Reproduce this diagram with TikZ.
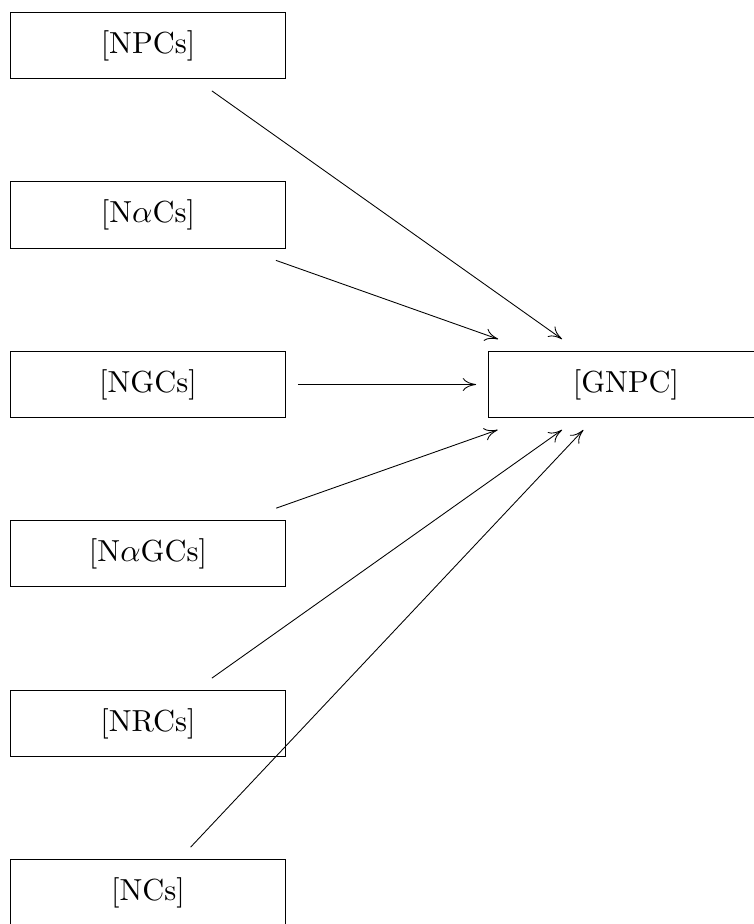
\documentclass[tikz,border=0pt]{standalone}
\usepackage{amsmath}
\usepackage{amssymb}
\usepackage{tikz}
\usetikzlibrary{calc}
\usetikzlibrary{arrows.meta}

\begin{document}
\begin{tikzpicture}[x=0.345pt,y=-0.345pt,
    cell/.style={draw,line width=0.35pt,minimum width=95.2pt,minimum height=23.1pt,
      inner sep=0pt,outer sep=4.1pt},
    link/.style={-{To[length=4.6pt,width=4.4pt]},line width=0.3pt}]
  \useasboundingbox (0,0) rectangle (753,924);
  {\fontsize{10.5pt}{12.6pt}\selectfont

  % Left column of boxes
  \node[cell] (npcs)  at (148,45.5)  {[NPCs]};
  \node[cell] (nacs)  at (148,215)   {[N$\alpha$Cs]};
  \node[cell] (ngcs)  at (148,384.5) {[NGCs]};
  \node[cell] (nagcs) at (148,553.5) {[N$\alpha$GCs]};
  \node[cell] (nrcs)  at (148,723.5) {[NRCs]};
  \node[cell] (ncs)   at (148,892.5) {[NCs]};

  % Target box
  \node[cell] (gnpc)  at (626,384.5) {[GNPC]};

  % Drawing arrows into GNPC
  \draw[link] (npcs)  -- (gnpc);
  \draw[link] (nacs)  -- (gnpc);
  \draw[link] (ngcs)  -- (gnpc);
  \draw[link] (nagcs) -- (gnpc);
  \draw[link] (nrcs)  -- (gnpc);
  \draw[link] (ncs)   -- (gnpc);
  }
\end{tikzpicture}
\end{document}
